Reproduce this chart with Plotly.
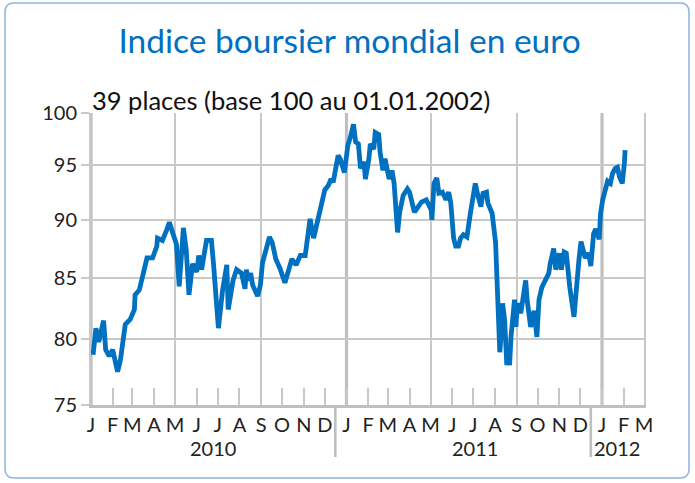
import math
import plotly.graph_objects as go

# ---------------- data ----------------
dates = [
    "2010-01-04", "2010-01-08", "2010-01-12", "2010-01-19", "2010-01-22", "2010-01-27",
    "2010-02-01", "2010-02-08", "2010-02-12", "2010-02-16", "2010-02-19", "2010-02-26",
    "2010-03-04", "2010-03-05", "2010-03-11", "2010-03-18", "2010-03-22", "2010-03-30",
    "2010-04-05", "2010-04-06", "2010-04-13", "2010-04-19", "2010-04-23", "2010-04-28",
    "2010-05-03", "2010-05-07", "2010-05-13", "2010-05-17", "2010-05-21", "2010-05-26",
    "2010-06-01", "2010-06-04", "2010-06-08", "2010-06-15", "2010-06-22", "2010-06-25",
    "2010-07-02", "2010-07-08", "2010-07-14", "2010-07-16", "2010-07-23", "2010-07-28",
    "2010-08-04", "2010-08-09", "2010-08-11", "2010-08-13", "2010-08-17", "2010-08-20",
    "2010-08-27", "2010-08-31", "2010-09-03", "2010-09-13", "2010-09-17", "2010-09-22",
    "2010-09-28", "2010-10-05", "2010-10-12", "2010-10-15", "2010-10-21", "2010-10-27",
    "2010-11-03", "2010-11-10", "2010-11-15", "2010-11-19", "2010-11-24", "2010-12-01",
    "2010-12-06", "2010-12-10", "2010-12-13", "2010-12-20", "2010-12-23", "2010-12-29",
    "2011-01-03", "2011-01-06", "2011-01-11", "2011-01-14", "2011-01-18", "2011-01-21",
    "2011-01-26", "2011-01-28", "2011-02-02", "2011-02-04", "2011-02-09", "2011-02-11",
    "2011-02-16", "2011-02-18", "2011-02-22", "2011-02-25", "2011-03-03", "2011-03-07",
    "2011-03-10", "2011-03-15", "2011-03-18", "2011-03-23", "2011-03-29", "2011-04-01",
    "2011-04-08", "2011-04-12", "2011-04-18", "2011-04-25", "2011-04-27", "2011-05-02",
    "2011-05-03", "2011-05-06", "2011-05-10", "2011-05-13", "2011-05-18", "2011-05-23",
    "2011-05-27", "2011-05-30", "2011-06-03", "2011-06-06", "2011-06-10", "2011-06-13",
    "2011-06-17", "2011-06-22", "2011-06-27", "2011-07-01", "2011-07-04", "2011-07-08",
    "2011-07-12", "2011-07-15", "2011-07-20", "2011-07-22", "2011-07-28", "2011-08-02",
    "2011-08-04", "2011-08-05", "2011-08-08", "2011-08-10", "2011-08-12", "2011-08-15",
    "2011-08-18", "2011-08-19", "2011-08-22", "2011-08-24", "2011-08-29", "2011-08-31",
    "2011-09-02", "2011-09-07", "2011-09-14", "2011-09-16", "2011-09-21", "2011-09-26",
    "2011-09-30", "2011-10-03", "2011-10-07", "2011-10-12", "2011-10-17", "2011-10-19",
    "2011-10-24", "2011-10-27", "2011-11-01", "2011-11-04", "2011-11-08", "2011-11-11",
    "2011-11-16", "2011-11-22", "2011-11-25", "2011-11-29", "2011-12-02", "2011-12-08",
    "2011-12-13", "2011-12-16", "2011-12-20", "2011-12-23", "2011-12-28", "2011-12-30",
    "2012-01-02", "2012-01-04", "2012-01-06", "2012-01-09", "2012-01-13", "2012-01-16",
    "2012-01-20", "2012-01-23", "2012-01-26", "2012-01-30", "2012-02-02", "2012-02-03",
]
index_values = [
    78.8, 80.9, 79.8, 81.5, 79.2, 78.7,
    79.2, 77.5, 78.4, 79.7, 81.2, 81.6,
    82.4, 83.6, 84.0, 85.7, 86.7, 86.7,
    87.7, 88.4, 88.2, 89.1, 89.8, 88.8,
    87.9, 84.3, 89.3, 87.4, 83.6, 86.2,
    85.5, 86.9, 85.7, 88.2, 88.2, 86.2,
    80.9, 84.0, 86.1, 82.4, 84.8, 85.7,
    85.4, 84.1, 85.7, 84.8, 85.4, 84.4,
    83.5, 84.4, 86.3, 88.5, 88.0, 86.6,
    85.8, 84.6, 85.8, 86.6, 86.1, 86.9,
    86.9, 90.1, 88.4, 89.5, 90.7, 92.7,
    93.1, 93.7, 93.4, 95.9, 95.6, 94.3,
    96.9, 97.5, 98.9, 97.2, 97.0, 94.7,
    95.3, 93.7, 95.6, 97.0, 96.5, 98.1,
    97.9, 96.2, 94.5, 95.6, 93.7, 94.5,
    93.3, 88.9, 90.7, 92.2, 92.8, 92.5,
    90.7, 91.0, 91.6, 91.8, 91.6, 90.9,
    90.0, 93.3, 93.8, 92.4, 92.5, 91.8,
    92.5, 91.5, 88.4, 87.7, 87.7, 88.4,
    88.7, 88.5, 90.6, 92.4, 93.3, 92.1,
    91.2, 92.4, 92.5, 91.5, 90.6, 88.0,
    84.5, 82.5, 79.0, 80.5, 82.9, 81.5,
    78.0, 79.2, 78.0, 80.2, 83.2, 81.0,
    82.9, 82.1, 84.8, 83.2, 81.0, 82.3,
    80.2, 83.2, 84.2, 84.8, 85.4, 86.2,
    87.5, 85.7, 87.1, 85.7, 87.2, 87.1,
    84.2, 81.8, 84.2, 86.5, 88.1, 86.7,
    87.1, 86.0, 88.8, 89.2, 88.3, 90.6,
    91.8, 92.4, 93.0, 93.5, 93.3, 94.2,
    94.7, 94.8, 93.9, 93.3, 95.2, 96.4,
]

month_ticks = [
    "2010-01-01", "2010-02-01", "2010-03-01", "2010-04-01", "2010-05-01", "2010-06-01",
    "2010-07-01", "2010-08-01", "2010-09-01", "2010-10-01", "2010-11-01", "2010-12-01",
    "2011-01-01", "2011-02-01", "2011-03-01", "2011-04-01", "2011-05-01", "2011-06-01",
    "2011-07-01", "2011-08-01", "2011-09-01", "2011-10-01", "2011-11-01", "2011-12-01",
    "2012-01-01", "2012-02-01", "2012-03-01",
]
month_labels = ["J", "F", "M", "A", "M", "J", "J", "A", "S", "O", "N", "D",
                "J", "F", "M", "A", "M", "J", "J", "A", "S", "O", "N", "D",
                "J", "F", "M"]
grid_months = ["2010-05-01", "2010-09-01", "2011-05-01", "2011-09-01"]
year_starts = ["2010-01-01", "2011-01-01", "2012-01-01"]
year_separators = ["2010-12-16", "2011-12-16"]
year_labels = ["2010", "2011", "2012"]
year_label_pos = ["2010-06-24", "2011-07-04", "2012-01-23"]
y_ticks = [75, 80, 85, 90, 95, 100]

# ---------------- geometry ----------------
W, H = 695, 483
L, R, T, B = 91, 644, 113, 405  # plot area in pixels
BLUE = "#0070C0"
GRID = "#c8c8c8"
AXIS = "#bfbfbf"
FONT = "Lato"


def px_x(p):
    return (p - L) / (R - L)


def px_y(p):
    return (B - p) / (B - T)


fig = go.Figure()
fig.add_trace(go.Scatter(
    x=dates, y=index_values, mode="lines",
    line=dict(color=BLUE, width=4.8), hoverinfo="skip", showlegend=False,
))

shapes = []
for d in year_starts:
    shapes.append(dict(type="line", xref="x", yref="paper", x0=d, x1=d, y0=0, y1=1,
                       line=dict(color=AXIS, width=3.2), layer="below"))
for d in year_separators:
    shapes.append(dict(type="line", xref="x", yref="paper", x0=d, x1=d, y0=0,
                       y1=px_y(457), line=dict(color=AXIS, width=2.6), layer="above"))

# rounded outer frame
x0, x1, y0, y1, r = 5, 689, 3, 478, 9
path = (
    f"M {px_x(x0 + r)} {px_y(y0)} L {px_x(x1 - r)} {px_y(y0)} "
    f"Q {px_x(x1)} {px_y(y0)} {px_x(x1)} {px_y(y0 + r)} "
    f"L {px_x(x1)} {px_y(y1 - r)} Q {px_x(x1)} {px_y(y1)} {px_x(x1 - r)} {px_y(y1)} "
    f"L {px_x(x0 + r)} {px_y(y1)} Q {px_x(x0)} {px_y(y1)} {px_x(x0)} {px_y(y1 - r)} "
    f"L {px_x(x0)} {px_y(y0 + r)} Q {px_x(x0)} {px_y(y0)} {px_x(x0 + r)} {px_y(y0)} Z"
)
shapes.append(dict(type="path", xref="paper", yref="paper", path=path,
                   line=dict(color="#8db4e2", width=1.5), layer="above"))

annotations = [
    dict(text="39 places (base 100 au 01.01.2002)", xref="paper", yref="paper",
         x=px_x(90), y=px_y(100), xanchor="left", yanchor="middle", showarrow=False,
         font=dict(family=FONT, size=25.5, color="#111111")),
]
for lab, pos in zip(year_labels, year_label_pos):
    annotations.append(dict(text=lab, xref="x", yref="paper", x=pos, y=px_y(448),
                            xanchor="center", yanchor="middle", showarrow=False,
                            font=dict(family=FONT, size=20, color="#222222")))

fig.update_layout(
    width=W, height=H,
    margin=dict(l=L, r=W - R, t=T, b=H - B, pad=0),
    paper_bgcolor="white", plot_bgcolor="white",
    title=dict(text="Indice boursier mondial en euro", x=0.503, xanchor="center",
               y=1 - 41 / H, yanchor="middle",
               font=dict(family=FONT, size=33.5, color=BLUE)),
    shapes=shapes, annotations=annotations, showlegend=False,
    xaxis=dict(
        type="date", range=["2010-01-01", "2012-03-01"],
        tickmode="array", tickvals=month_ticks, ticktext=month_labels,
        ticks="inside", ticklen=17, tickwidth=1.5, tickcolor=GRID,
        showgrid=False, zeroline=False,
        showline=True, linecolor=AXIS, linewidth=2.5, mirror=False,
        tickfont=dict(family=FONT, size=20, color="#222222"),
        minor=dict(tickmode="array", tickvals=grid_months, showgrid=True,
                   gridcolor=GRID, gridwidth=1.7, ticklen=0),
    ),
    yaxis=dict(
        type="log", range=[math.log10(75), math.log10(100)],
        tickmode="array", tickvals=y_ticks, ticktext=[str(v) for v in y_ticks],
        ticks="outside", ticklen=8, tickwidth=1.7, tickcolor=GRID,
        showgrid=True, gridcolor=GRID, gridwidth=1.7, zeroline=False,
        showline=True, linecolor=GRID, linewidth=2, mirror=True,
        tickfont=dict(family=FONT, size=20, color="#222222"),
    ),
)

fig.write_html("out.html", config={"displayModeBar": False},
               post_script="document.body.style.margin='0px';")
